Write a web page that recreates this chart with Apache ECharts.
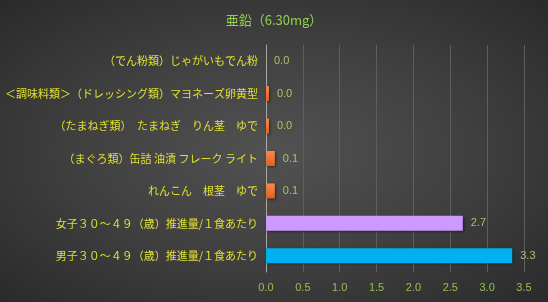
<!DOCTYPE html>
<html><head><meta charset="utf-8">
<script src="https://cdn.jsdelivr.net/npm/echarts@6/dist/echarts.min.js"></script>
<style>html,body{margin:0;padding:0;}#c{width:548px;height:302px;background:radial-gradient(ellipse at 50% 50%,#525252 0%,#404040 50%,#2a2a2a 100%);}</style>
</head><body><div id="c"></div>
<script>
const titleText = '亜鉛（6.30mg）';
const categories = [
  '（でん粉類）じゃがいもでん粉',
  '＜調味料類＞（ドレッシング類）マヨネーズ卵黄型',
  '（たまねぎ類）　たまねぎ　りん茎　ゆで',
  '（まぐろ類）缶詰 油漬 フレーク ライト',
  'れんこん　根茎　ゆで',
  '女子３０～４９（歳）推進量/１食あたり',
  '男子３０～４９（歳）推進量/１食あたり'
];
const values = [0, 0.04, 0.04, 0.12, 0.12, 2.67, 3.34];
const barKinds = ['food','food','food','food','food','female','male'];

const orange = {type:'linear',x:0,y:0,x2:0,y2:1,colorStops:[{offset:0,color:'#f68a4c'},{offset:1,color:'#e2601c'}]};
const colorMap = {food: orange, female:'#cc99ff', male:'#00b0f0'};

const chart = echarts.init(document.getElementById('c'), null, {renderer:'canvas'});
chart.setOption({
  backgroundColor:'transparent',
  animation:false,
  title:{text:titleText,left:'center',top:9,textStyle:{color:'#92d050',fontSize:13,fontWeight:'normal',fontFamily:'Noto Sans CJK JP'}},
  grid:{left:266,right:24,top:45,bottom:30,containLabel:false},
  xAxis:{type:'value',min:0,max:3.5,interval:0.5,
    axisLabel:{color:'#92c050',fontSize:11,fontFamily:'Liberation Sans',margin:10,formatter:v=>v.toFixed(1)},
    axisLine:{show:false},axisTick:{show:false},
    splitLine:{lineStyle:{color:'#5e5e5e',width:1}}},
  yAxis:{type:'category',data:categories,inverse:true,
    axisLine:{show:true,lineStyle:{color:'#a8a8a8',width:1}},axisTick:{show:false},
    axisLabel:{color:'#e0e030',fontSize:11,fontFamily:'Noto Sans CJK JP',margin:8}},
  series:[{type:'bar',barWidth:15,
    data:values.map((v,i)=>({value:v,itemStyle:{color:colorMap[barKinds[i]]}})),
    itemStyle:{shadowColor:'rgba(0,0,0,0.5)',shadowBlur:3,shadowOffsetX:1,shadowOffsetY:1},
    label:{show:true,position:'right',distance:8,color:'#a6c46a',fontSize:11,fontFamily:'Liberation Sans',formatter:p=>p.value.toFixed(1)}
  }]
});
</script></body></html>
